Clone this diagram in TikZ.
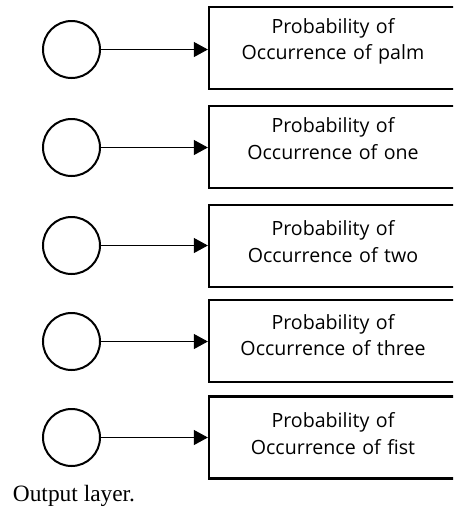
\documentclass[tikz,border=0pt]{standalone}
\usepackage{fontspec}
\setmainfont{Open Sans}[Ligatures=NoCommon]
\newfontfamily\captionfont{Liberation Serif}
\usetikzlibrary{arrows.meta}

\begin{document}
\begin{tikzpicture}[x=1pt,y=-1pt,
  neuron/.style={circle,draw,line width=2pt,minimum size=57pt,inner sep=0pt},
  probbox/.style={rectangle,draw,line width=2.3pt,minimum width=248pt,minimum height=82pt,inner sep=0pt},
  probtext/.style={text width=240pt,align=center,anchor=base,inner sep=0pt,
    font=\fontsize{19.6}{26.5}\selectfont},
  link/.style={line width=1pt,-{Triangle[length=14pt,width=15pt]}}]
\useasboundingbox (0,0) rectangle (453,509);
\clip (0,0) rectangle (453,509);

% output neurons
\node[neuron] (c1) at (71.5,49.5) {};
\node[neuron] (c2) at (71.5,147.5) {};
\node[neuron] (c3) at (71.5,245.5) {};
\node[neuron] (c4) at (71.5,341.5) {};
\node[neuron] (c5) at (71.5,437.5) {};

% class probability boxes
\node[probbox] (b1) at (333,48) {};
\node[probbox] (b2) at (333,147) {};
\node[probbox] (b3) at (333,246.3) {};
\node[probbox] (b4) at (333,341) {};
\node[probbox] (b5) at (333,437.5) {};

\node[probtext] (t1) at (333,33.3)  {Probability of\\Occurrence of palm};
\node[probtext] (t2) at (333,132.7) {Probability of\\Occurrence of one};
\node[probtext] (t3) at (333,235.7) {Probability of\\Occurrence of two};
\node[probtext] (t4) at (333,329.3) {Probability of\\Occurrence of three};
\node[probtext] (t5) at (333,427.7) {Probability of\\Occurrence of fist};

% connections
\foreach \i in {1,...,5}
  \draw[link] (c\i.east) -- (c\i.east -| b\i.west);

\node[anchor=base west,inner sep=0pt,font=\captionfont\fontsize{23.4}{28}\selectfont]
  (cap) at (12.7,501.7) {Output layer.};
\end{tikzpicture}
\end{document}
